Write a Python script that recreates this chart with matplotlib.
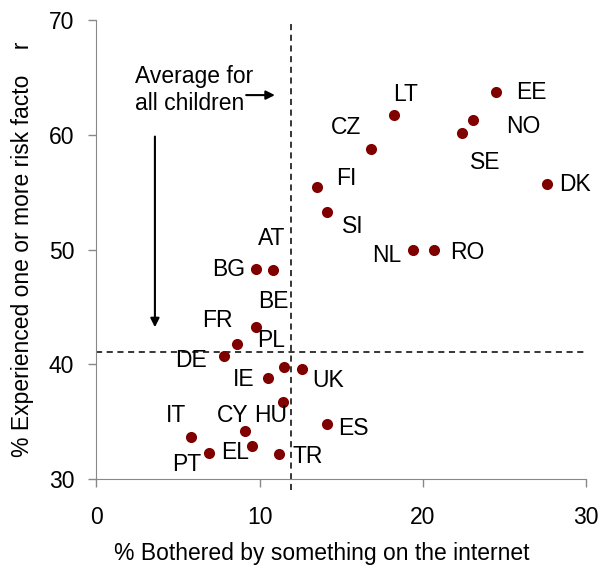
import numpy as np
import matplotlib.pyplot as plt

plt.rcParams['font.family'] = ['Liberation Sans', 'DejaVu Sans']

# data
countries = ['EE', 'NO', 'SE', 'LT', 'CZ', 'DK', 'FI', 'SI', 'NL', 'RO',
             'AT', 'BG', 'BE', 'FR', 'DE', 'PL', 'UK', 'IE', 'HU', 'CY',
             'IT', 'EL', 'PT', 'TR', 'ES']
bothered = [24.5, 23.1, 22.4, 18.2, 16.8, 27.6, 13.5, 14.1, 19.4, 20.7,
            10.8, 9.8, 9.8, 8.6, 7.8, 11.5, 12.6, 10.5, 11.4, 9.1,
            5.8, 9.5, 6.9, 11.2, 14.1]
risk = [63.7, 61.3, 60.2, 61.7, 58.8, 55.7, 55.5, 53.3, 50.0, 50.0,
        48.2, 48.3, 43.3, 41.8, 40.7, 39.8, 39.6, 38.8, 36.7, 34.2,
        33.7, 32.9, 32.3, 32.2, 34.8]
avg_bothered = 11.9
avg_risk = 41.1

# label offsets (pixels)
offsets = {
    'EE': (35, 0), 'NO': (50, 6), 'SE': (23, 30), 'LT': (12, -21),
    'CZ': (-25, -21), 'DK': (28, 0), 'FI': (29, -8), 'SI': (26, 15),
    'NL': (-26, 6), 'RO': (33, 3), 'AT': (-1, -32), 'BG': (-28, 0),
    'BE': (17, -25), 'FR': (-19, -23), 'PL': (-13, -26), 'DE': (-33, 4),
    'IE': (-24, 1), 'UK': (26, 11), 'HU': (-12, 13), 'CY': (-12, -16),
    'IT': (-15, -21), 'EL': (-16, 7), 'PT': (-22, 12), 'TR': (28, 3),
    'ES': (27, 4),
}

fs = 16.5
fig = plt.figure(figsize=(6.03, 5.76), dpi=100)
ax = fig.add_axes([0.16, 0.168, 0.812, 0.797])

ax.scatter(bothered, risk, s=64, color='#800000', zorder=3, linewidths=0)
for c, x, y in zip(countries, bothered, risk):
    dx, dy = offsets[c]
    ax.annotate(c, (x, y), xytext=(dx, -dy), textcoords='offset pixels',
                ha='center', va='center', fontsize=fs)

# average lines
ax.plot([0, 30], [avg_risk, avg_risk], color='black', lw=1.1,
        dashes=(4, 3), clip_on=False)
ax.plot([avg_bothered, avg_bothered], [29.05, 70], color='black', lw=1.1,
        dashes=(4, 3), clip_on=False)

# annotation
ax.text(2.36, 63.9, 'Average for\nall children', fontsize=fs,
        ha='left', va='center', linespacing=1.25)
ax.annotate('', xy=(11.1, 63.47), xytext=(9.0, 63.47),
            arrowprops=dict(arrowstyle='-|>', color='black', lw=1.5,
                            mutation_scale=13))
ax.annotate('', xy=(3.58, 43.0), xytext=(3.58, 60.1),
            arrowprops=dict(arrowstyle='-|>', color='black', lw=1.5,
                            mutation_scale=13))

ax.set_xlim(0, 30)
ax.set_ylim(30, 70)
ax.set_xticks([0, 10, 20, 30])
ax.set_yticks([30, 40, 50, 60, 70])
ax.spines['top'].set_visible(False)
ax.spines['right'].set_visible(False)
for s in ['left', 'bottom']:
    ax.spines[s].set_color('#888888')
ax.tick_params(colors='#888888', labelcolor='black', labelsize=fs,
               length=6, width=1)
ax.tick_params(axis='x', pad=13)
ax.tick_params(axis='y', pad=10)

ax.set_xlabel('% Bothered by something on the internet', fontsize=fs)
ax.xaxis.set_label_coords(0.46, -0.136)
ax.set_ylabel('% Experienced one or more risk facto    r', fontsize=fs)
ax.yaxis.set_label_coords(-0.128, 0.5)

fig.savefig('out.png', dpi=100)
